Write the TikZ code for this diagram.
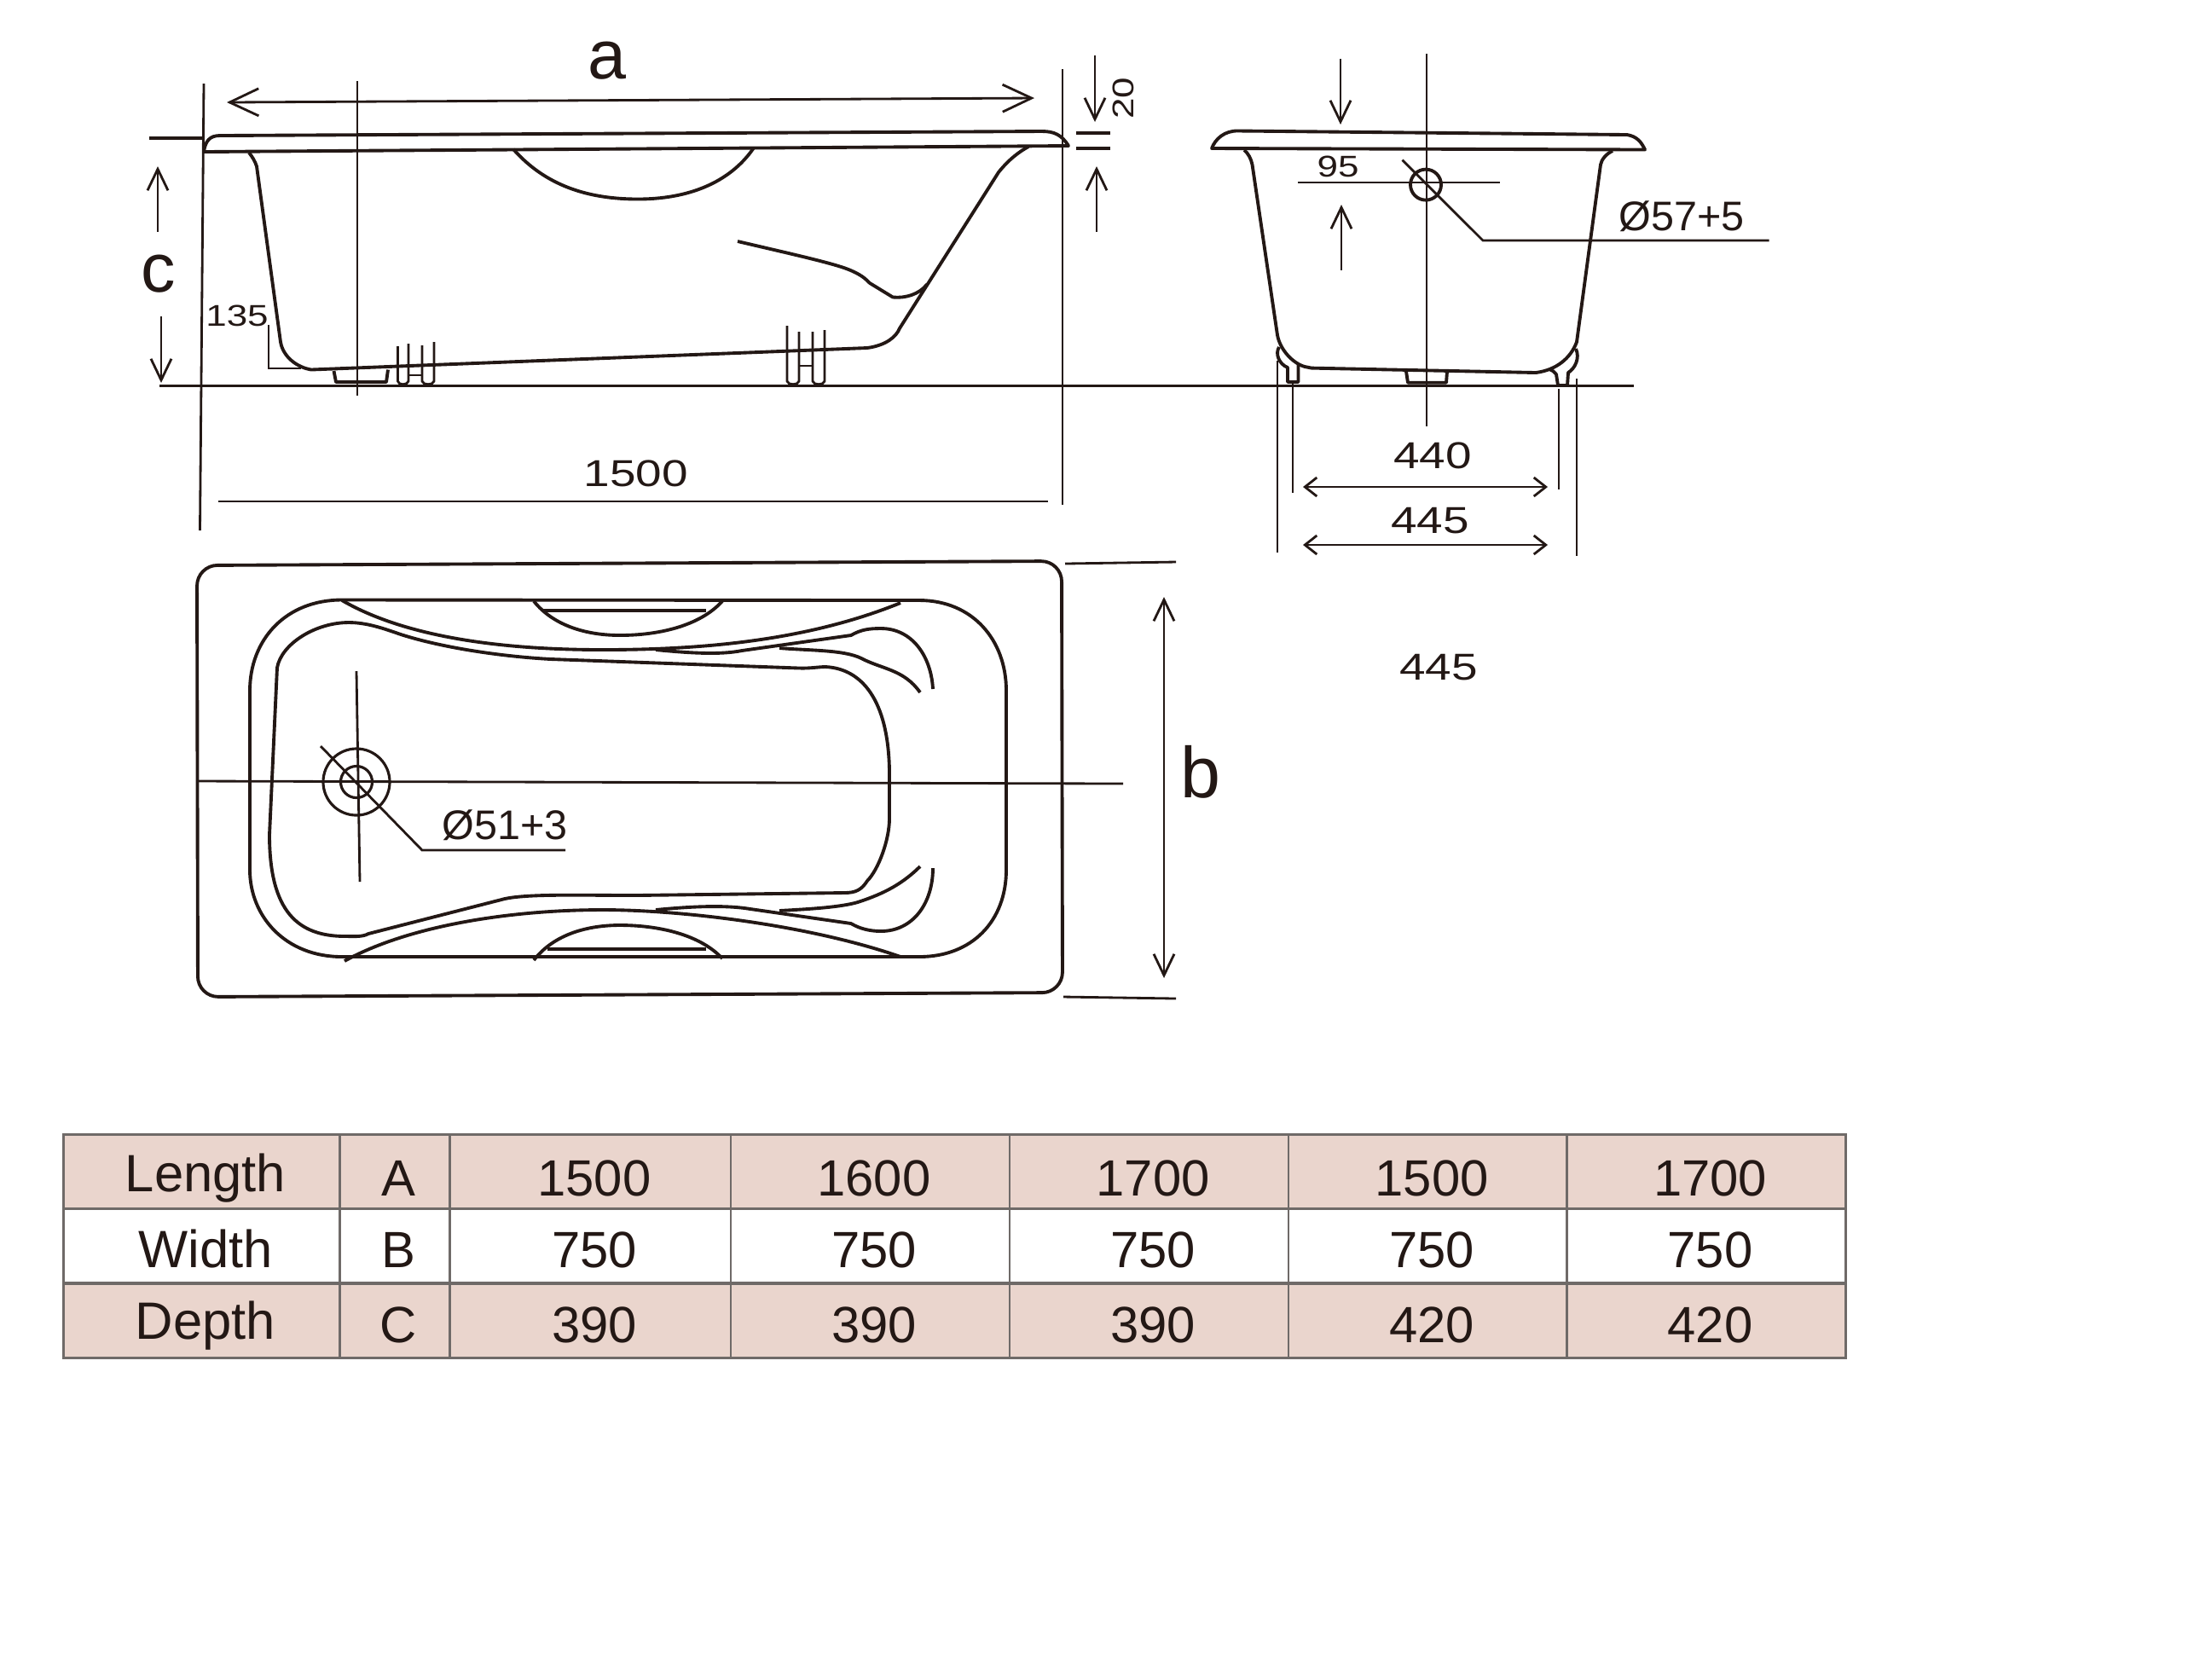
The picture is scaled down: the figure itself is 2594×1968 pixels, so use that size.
\documentclass[tikz,border=0pt]{standalone}
\usepackage{fontspec}
\setmainfont{Liberation Sans}
\newfontfamily\widefont[FakeStretch=1.25]{Liberation Sans}
\usetikzlibrary{arrows.meta}
\definecolor{ink}{HTML}{231815}
\definecolor{pinkrow}{HTML}{EAD5CD}
\definecolor{cellline}{HTML}{6F6A68}
\tikzstyle{outline} = [draw=ink, line width=1.1pt, line join=round]
\tikzstyle{thinline} = [draw=ink, line width=.8pt]
\tikzstyle{bigarrow} = [thinline, <->, >={Straight Barb[length=.34cm,width=.32cm]}]
\tikzstyle{slimarrow} = [thinline, ->, >={Straight Barb[length=.25cm,width=.24cm]}]
\tikzstyle{midarrow} = [thinline, <->, >={Straight Barb[length=.14cm,width=.22cm]}]
\tikzstyle{bigtext} = [text=ink, inner sep=0pt, font=\fontsize{23}{25}\selectfont]
\tikzstyle{dimtext} = [text=ink, inner sep=0pt, font=\widefont\fontsize{12.5}{14}\selectfont]
\tikzstyle{smalltext} = [text=ink, inner sep=0pt, font=\widefont\fontsize{10}{12}\selectfont]
\tikzstyle{holetext} = [text=ink, inner sep=0pt, font=\fontsize{13.8}{16}\selectfont]
\tikzstyle{cell} = [draw=cellline, line width=.8pt, text=ink, inner sep=0pt, minimum height=.875cm, text height=.6cm, text depth=.1cm, font=\fontsize{17}{19}\selectfont, execute at begin node={\hspace*{.09cm}}]
\tikzstyle{pinkcell} = [cell, fill=pinkrow]
\tikzstyle{whitecell} = [cell, fill=white]
\tikzstyle{namecell} = [font=\fontsize{17.5}{19}\selectfont]
\tikzstyle{lowtext} = [text height=.66cm]
\begin{document}
\begin{tikzpicture}[x=.01cm, y=-.01cm]
  \useasboundingbox (0,0) rectangle (2594,1968);

  % side view
  \draw [outline] (239,178) .. controls (241,165) and (246,159) .. (258,159) -- (1222,154) .. controls (1236,154) and (1245,158) .. (1253,171) -- cycle;
  \draw [outline] (292,179) .. controls (296,184) and (299,189) .. (301,195) -- (329,401) .. controls (332,419) and (349,431) .. (365,433.5) -- (1017,408) .. controls (1039,405) and (1051,395) .. (1055,385) -- (1171,202) .. controls (1183,187) and (1195,178) .. (1206,172);
  \draw [outline] (602,175) .. controls (640,218) and (690,233.5) .. (748,233.5) .. controls (806,233.5) and (855,215) .. (883.5,174);
  \draw [outline] (865,283) .. controls (920,296) and (975,308) .. (995,316) .. controls (1010,322) and (1015,327) .. (1020,332) -- (1047,348.5) .. controls (1062,350) and (1078,345) .. (1087,333.5);
  \draw [outline] (391.5,435) -- (394,448) -- (453,448) -- (455,433.5);
  \draw [thinline] (466.5,406) -- (466.5,447) .. controls (467,452) and (478,452) .. (479,447) -- (479,403);
  \draw [thinline] (495,405) -- (495,447) .. controls (496,452) and (508,452) .. (509,447) -- (509,401);
  \draw [thinline] (479,440) -- (495,440);
  \draw [thinline] (923,382) -- (923,447) .. controls (924,452) and (936,452) .. (937,447) -- (937,389);
  \draw [thinline] (953,389) -- (953,447) .. controls (954,452) and (966,452) .. (967,447) -- (967,387);
  \draw [thinline] (937,429) -- (953,429);

  % end view
  \draw [outline] (1421,174) .. controls (1425,163) and (1436,153) .. (1452,153.5) -- (1908,158) .. controls (1920,160) and (1925,167) .. (1929,175.5) -- cycle;
  \draw [outline] (1459,176) .. controls (1464,180) and (1467,186) .. (1468.5,193) -- (1498,393) .. controls (1501,410) and (1516,426) .. (1530,430) -- (1538,431.6) -- (1801,437) .. controls (1825,434) and (1842,420) .. (1849,401) -- (1877,193) .. controls (1878,187) and (1884,180) .. (1891,177);
  \draw [outline] (1500,407) .. controls (1495,415) and (1500,427) .. (1510,431) -- (1510,448) -- (1522.5,448) -- (1522.5,427);
  \draw [outline] (1848,409) .. controls (1853,420) and (1847,432) .. (1839,437) -- (1838,452) -- (1827,452) -- (1825,439) .. controls (1823,436) and (1820,434) .. (1817,433);
  \draw [outline] (1649,435.6) -- (1651,448.7) -- (1696,448.7) -- (1697,435.6);
  \node [circle, draw=ink, line width=1.1pt, minimum size=.36cm, inner sep=0pt] (overflow) at (1672,216.6) {};

  % top view
  \draw [outline] [rounded corners=.24cm] (231,663) -- (1245,658) -- (1246,1164) -- (232,1169) -- cycle;
  \draw [outline] (401,703.5) -- (1078,704) .. controls (1140,704) and (1180,750) .. (1180,810) -- (1180,1020) .. controls (1180,1080) and (1140,1122) .. (1078,1122) -- (401,1122) .. controls (335,1122) and (293,1075) .. (293,1020) -- (293,810) .. controls (293,750) and (335,703.5) .. (401,703.5) -- cycle;
  \draw [outline] (409,730) .. controls (430,730) and (450,737) .. (470,744) .. controls (520,760) and (590,770) .. (646,773) -- (937,783.5) .. controls (950,784) and (960,782) .. (968,782) .. controls (1010,784) and (1042,820) .. (1043,905) -- (1043,960) .. controls (1043,985) and (1030,1020) .. (1017,1033) .. controls (1010,1044) and (1003,1047) .. (990,1047) -- (746,1050) .. controls (680,1050) and (620,1048) .. (592,1054) -- (432,1095) .. controls (425,1099) and (415,1098) .. (405,1098) .. controls (350,1098) and (316,1070) .. (316,979) -- (325,783) .. controls (330,755) and (370,730) .. (409,730) -- cycle;
  \draw [outline] (401,704) .. controls (480,750) and (600,762) .. (707,762) .. controls (830,762) and (950,750) .. (1056,707);
  \draw [outline] (404,1127) .. controls (480,1085) and (600,1067) .. (707,1067) .. controls (800,1067) and (950,1085) .. (1056,1122);
  \draw [outline] (769,762) .. controls (810,766) and (845,768) .. (870,763) -- (998,745) .. controls (1010,738) and (1020,737) .. (1033,737) .. controls (1070,737) and (1092,770) .. (1094,808);
  \draw [outline] (914,760) .. controls (950,763) and (990,762) .. (1010,772) .. controls (1035,785) and (1060,785) .. (1079,812);
  \draw [outline] (769,1067) .. controls (810,1063) and (850,1061) .. (880,1066) -- (998,1083) .. controls (1008,1089) and (1020,1092) .. (1033,1092) .. controls (1070,1092) and (1094,1060) .. (1094,1018);
  \draw [outline] (914,1068) .. controls (950,1066) and (985,1064) .. (1006,1058) .. controls (1030,1050) and (1055,1040) .. (1079,1016);
  \draw [outline] (626,705) .. controls (650,735) and (690,745) .. (727,745) .. controls (770,745) and (820,735) .. (847,705);
  \draw [outline] (637,716) -- (828,716);
  \draw [outline] (626,1126) .. controls (650,1095) and (690,1085) .. (727,1085) .. controls (770,1085) and (820,1095) .. (847,1124);
  \draw [outline] (642,1113) -- (828,1113);
  \node [circle, draw=ink, line width=.9pt, minimum size=.78cm, inner sep=0pt] (wasteouter) at (418,917) {};
  \node [circle, draw=ink, line width=.9pt, minimum size=.37cm, inner sep=0pt] (wasteinner) at (418,917) {};

  % Free ends of the dimension lines
  \coordinate (aleft) at (266,120);
  \coordinate (aright) at (1213,115);
  \coordinate (sideleftA) at (239,98);
  \coordinate (sideleftB) at (234.5,622);
  \coordinate (siderightA) at (1246,81);
  \coordinate (siderightB) at (1246,592);
  \coordinate (sidemidA) at (419,95);
  \coordinate (sidemidB) at (419,464);
  \coordinate (floorA) at (187,452.5);
  \coordinate (floorB) at (1916,452.5);
  \coordinate (rimtickA) at (175,162);
  \coordinate (rimtickB) at (239,162);
  \coordinate (cupA) at (185,272);
  \coordinate (cupB) at (185,195);
  \coordinate (cdownA) at (189,371);
  \coordinate (cdownB) at (189,449);
  \coordinate (twentydownA) at (1284,65);
  \coordinate (twentydownB) at (1284,143);
  \coordinate (twentyupA) at (1286,272);
  \coordinate (twentyupB) at (1286,195);
  \coordinate (tickoneA) at (1262,156);
  \coordinate (tickoneB) at (1302,156);
  \coordinate (ticktwoA) at (1262,174);
  \coordinate (ticktwoB) at (1302,174);
  \coordinate (spanA) at (256,588);
  \coordinate (spanB) at (1229,588);
  \coordinate (stepA) at (315,381);
  \coordinate (stepB) at (315,432);
  \coordinate (stepC) at (353,432);
  \coordinate (endmidA) at (1673,63);
  \coordinate (endmidB) at (1673,500);
  \coordinate (outerleftA) at (1498,423);
  \coordinate (outerleftB) at (1498,648);
  \coordinate (innerleftA) at (1516,449);
  \coordinate (innerleftB) at (1516,578);
  \coordinate (innerrightA) at (1828,456);
  \coordinate (innerrightB) at (1828,574);
  \coordinate (outerrightA) at (1849,444);
  \coordinate (outerrightB) at (1849,652);
  \coordinate (ndownA) at (1572,69);
  \coordinate (ndownB) at (1572,146);
  \coordinate (nupA) at (1573,317);
  \coordinate (nupB) at (1573,240);
  \coordinate (nlineA) at (1522,214);
  \coordinate (nlineB) at (1759,214);
  \coordinate (overA) at (1644.5,187.6);
  \coordinate (overB) at (1739,282);
  \coordinate (overC) at (2074.5,282);
  \coordinate (fortyA) at (1528,571);
  \coordinate (fortyB) at (1815,571);
  \coordinate (fiveA) at (1528,639);
  \coordinate (fiveB) at (1815,639);
  \coordinate (plancrossA) at (231,916);
  \coordinate (plancrossB) at (1317,919);
  \coordinate (planmidA) at (418,787);
  \coordinate (planmidB) at (422,1034);
  \coordinate (wasteA) at (376,875);
  \coordinate (wasteB) at (495,997);
  \coordinate (wasteC) at (663,997);
  \coordinate (btickoneA) at (1249,661);
  \coordinate (btickoneB) at (1379,659);
  \coordinate (bticktwoA) at (1247,1169);
  \coordinate (bticktwoB) at (1379,1171);
  \coordinate (btop) at (1365,700);
  \coordinate (bbottom) at (1365,1147);

  % Once the coordinates are placed, connecting them is easy.
  \draw [bigarrow] (aleft) -- (aright);
  \draw [thinline] (sideleftA) -- (sideleftB);
  \draw [thinline] (siderightA) -- (siderightB);
  \draw [thinline] (sidemidA) -- (sidemidB);
  \draw [outline] (floorA) -- (floorB);
  \draw [outline] (rimtickA) -- (rimtickB);
  \draw [slimarrow] (cupA) -- (cupB);
  \draw [slimarrow] (cdownA) -- (cdownB);
  \draw [slimarrow] (twentydownA) -- (twentydownB);
  \draw [slimarrow] (twentyupA) -- (twentyupB);
  \draw [outline] (tickoneA) -- (tickoneB);
  \draw [outline] (ticktwoA) -- (ticktwoB);
  \draw [thinline] (spanA) -- (spanB);
  \draw [thinline] (stepA) -- (stepB) -- (stepC);
  \draw [thinline] (endmidA) -- (endmidB);
  \draw [thinline] (outerleftA) -- (outerleftB);
  \draw [thinline] (innerleftA) -- (innerleftB);
  \draw [thinline] (innerrightA) -- (innerrightB);
  \draw [thinline] (outerrightA) -- (outerrightB);
  \draw [slimarrow] (ndownA) -- (ndownB);
  \draw [slimarrow] (nupA) -- (nupB);
  \draw [thinline] (nlineA) -- (nlineB);
  \draw [thinline] (overA) -- (overB) -- (overC);
  \draw [midarrow] (fortyA) -- (fortyB);
  \draw [midarrow] (fiveA) -- (fiveB);
  \draw [thinline] (plancrossA) -- (plancrossB);
  \draw [thinline] (planmidA) -- (planmidB);
  \draw [thinline] (wasteA) -- (wasteB) -- (wasteC);
  \draw [thinline] (btickoneA) -- (btickoneB);
  \draw [thinline] (bticktwoA) -- (bticktwoB);
  \draw [slimarrow, <->] (btop) -- (bbottom);

  % labels
  \node [bigtext] (labela) at (712,71) {a};
  \node [bigtext] (labelc) at (186,321) {c};
  \node [bigtext, font=\fontsize{24}{26}\selectfont] (labelb) at (1408,905) {b};
  \node [dimtext] (span) at (746,555) {1500};
  \node [smalltext] (step) at (278,370) {135};
  \node [smalltext, rotate=90] (twenty) at (1317,115) {20};
  \node [smalltext] (ninety) at (1569,195) {95};
  \node [holetext] (overhole) at (1972,254) {Ø57+5};
  \node [holetext] (wastehole) at (592,968) {Ø51+3};
  \node [dimtext] (forty) at (1680,534) {440};
  \node [dimtext] (fiveup) at (1677,611) {445};
  \node [dimtext] (fivedown) at (1687,783) {445};

  % table
  \node [pinkcell, namecell, minimum width=3.24cm, text height=.56cm] (length) at (236.5,1374) {Length};
  \node [pinkcell, lowtext, minimum width=1.29cm] (lengthA) at (463,1374) {A};
  \node [pinkcell, lowtext, minimum width=3.29cm] (lengthB) at (692.5,1374) {1500};
  \node [pinkcell, lowtext, minimum width=3.27cm] (lengthC) at (1020.5,1374) {1600};
  \node [pinkcell, lowtext, minimum width=3.27cm] (lengthD) at (1347.5,1374) {1700};
  \node [pinkcell, lowtext, minimum width=3.27cm] (lengthE) at (1674.5,1374) {1500};
  \node [pinkcell, lowtext, minimum width=3.27cm] (lengthF) at (2001,1374) {1700};
  \node [whitecell, namecell, minimum width=3.24cm] (width) at (236.5,1461) {Width};
  \node [whitecell, minimum width=1.29cm] (widthA) at (463,1461) {B};
  \node [whitecell, minimum width=3.29cm] (widthB) at (692.5,1461) {750};
  \node [whitecell, minimum width=3.27cm] (widthC) at (1020.5,1461) {750};
  \node [whitecell, minimum width=3.27cm] (widthD) at (1347.5,1461) {750};
  \node [whitecell, minimum width=3.27cm] (widthE) at (1674.5,1461) {750};
  \node [whitecell, minimum width=3.27cm] (widthF) at (2001,1461) {750};
  \node [pinkcell, namecell, minimum width=3.24cm, text height=.52cm] (depth) at (236.5,1549) {Depth};
  \node [pinkcell, minimum width=1.29cm] (depthA) at (463,1549) {C};
  \node [pinkcell, minimum width=3.29cm] (depthB) at (692.5,1549) {390};
  \node [pinkcell, minimum width=3.27cm] (depthC) at (1020.5,1549) {390};
  \node [pinkcell, minimum width=3.27cm] (depthD) at (1347.5,1549) {390};
  \node [pinkcell, minimum width=3.27cm] (depthE) at (1674.5,1549) {420};
  \node [pinkcell, minimum width=3.27cm] (depthF) at (2001,1549) {420};
\end{tikzpicture}
\end{document}
